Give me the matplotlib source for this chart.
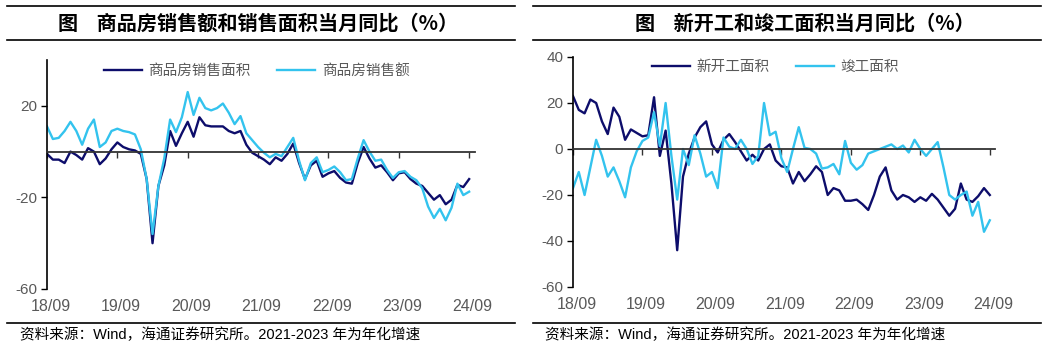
import matplotlib
matplotlib.use("Agg")
import matplotlib.pyplot as plt
from matplotlib.lines import Line2D
import matplotlib.transforms as mtransforms

plt.rcParams["font.family"] = ["Liberation Sans", "Noto Sans CJK SC"]
plt.rcParams["axes.unicode_minus"] = False

NAVY = "#0d0d6b"
CYAN = "#33c3ee"
GREY = "#595959"

# monthly, 2018-09 .. 2024-09 (index 0..72)
tick_pos = [0, 12, 24, 36, 48, 60, 72]
tick_labels = ["18/09", "19/09", "20/09", "21/09", "22/09", "23/09", "24/09"]

sales_area = [
    -1, -3.5, -3.5, -5, 0, -1.5, -3.5, 1.5, 0, -5.5, -3, 1,
    4, 2, 1, 0.5, -1, -12, -40, -15, -6, 9, 2.5, 8,
    13, 6.5, 15, 11.5, 11, 11, 11, 9, 8, 9, 3, -0.5,
    -2, -3.5, -5.5, -2.5, -4, -1, 3.5, -5, -12, -6, -4, -11,
    -9.5, -8.5, -11.5, -13.5, -14, -5, 2, -3, -7, -6, -9, -12.5,
    -9.5, -9, -12, -14, -15, -18, -21, -19, -23, -21, -14.5, -15.5,
    -12,
]
sales_amount = [
    11, 5.5, 6, 9, 13, 9, 3, 10, 14, 2, 4, 9,
    10, 9, 8.5, 7.5, 1, -12, -36, -15, -3, 14, 8.5, 15,
    26, 16, 23.5, 19, 18, 19, 21, 17, 12, 15.5, 8, 5,
    2, -0.5, -2.5, -1, -2, 2, 6, -4, -12.5, -5, -2.5, -9,
    -8, -6.5, -9, -12.5, -12, -3, 5, 0, -4, -3.5, -8, -11.5,
    -9, -8.5, -11, -12.5, -16, -24, -29, -25, -30, -24.5, -14, -19,
    -17.5,
]
new_starts = [
    23, 17, 15.5, 21.5, 20, 12, 6.5, 18, 14, 4, 8.5, 7,
    5.5, 6, 22.5, -3, 8, -15, -44, -12, -2, 5, 9.5, 12,
    2, -1.5, 4, 6.5, 3, -1, -5, -2.5, -5, 0, 2, -5,
    -7.5, -8, -15, -10, -14, -11, -7.5, -10, -20, -17, -18, -22.5,
    -22.5, -22, -24, -26.5, -20, -12, -8, -18, -22, -20, -21, -23,
    -21, -22.5, -19.5, -22, -25.5, -29, -26, -15, -22, -23, -20.5, -17,
    -20,
]
completions = [
    -17, -10, -20, -8, 4, -3, -12, -8, -14, -21, -8, -1,
    3.5, 5, 16, 1.3, 20, -3, -22, 0, -7, 6, -2, -12,
    -10, -17, 5, 1, 0, 4, 0, -6.5, -3, 20, 6, 7.5,
    -4, -10, 0, 9.5, 0.5, 0, -2, -8.5, -8, -6.5, -11, 3.5,
    -6, -9, -7, -2, -1, 0, 1, 2, 0, 1.5, -1.5, 4,
    0, -3, 0, 3, -8, -20, -22, -20, -18.5, -29, -23, -36,
    -31,
]

panels = [
    dict(rect=[47 / 1048, 1 - 289 / 354, 428 / 1048, 229 / 354], xmax=73,
         yticks=[-60, -20, 20],
         series=[(sales_area, NAVY, "商品房销售面积"), (sales_amount, CYAN, "商品房销售额")],
         title="图    商品房销售额和销售面积当月同比（%）",
         rule=(7, 515), title_x=258, leg=(0.49, 0.952), src_x=20),
    dict(rect=[573 / 1048, 1 - 287 / 354, 422 / 1048, 230 / 354], xmax=72.9,
         yticks=[-60, -40, -20, 0, 20, 40],
         series=[(new_starts, NAVY, "新开工面积"), (completions, CYAN, "竣工面积")],
         title="图    新开工和竣工面积当月同比（%）",
         rule=(533, 1041), title_x=805, leg=(0.48, 0.957), src_x=545),
]

fig = plt.figure(figsize=(10.48, 3.54), dpi=100)

for p in panels:
    ax = fig.add_axes(p["rect"])
    for vals, col, name in p["series"]:
        ax.plot(range(len(vals)), vals, color=col, lw=1.7, label=name,
                solid_joinstyle="round")
    ax.set_xlim(0, p["xmax"])
    ax.set_ylim(-60, 40)
    ax.set_yticks(p["yticks"])
    ax.set_xticks(tick_pos)
    for s in ("top", "right"):
        ax.spines[s].set_visible(False)
    ax.spines["left"].set_linewidth(1.2)
    ax.spines["bottom"].set_position(("data", 0))
    ax.spines["bottom"].set_color("#333333")
    ax.spines["bottom"].set_linewidth(1.3)
    ax.tick_params(axis="y", direction="out", length=4, width=1, colors="black",
                   labelcolor=GREY, labelsize=11, pad=3)
    ax.tick_params(axis="x", direction="out", length=4, width=1, colors="#333333",
                   labelbottom=False)
    trans = mtransforms.blended_transform_factory(ax.transData, ax.transAxes)
    for x, lab in zip(tick_pos, tick_labels):
        ax.text(x + 0.6, -0.075, lab, transform=trans, ha="center", va="center",
                fontsize=11.5, color=GREY)
    leg = ax.legend(loc="center", bbox_to_anchor=p["leg"], ncol=2, frameon=False,
                    handlelength=2.6, handletextpad=0.45, columnspacing=1.8,
                    prop={"family": ["Noto Sans CJK SC"], "size": 10.5})
    for t in leg.get_texts():
        t.set_color(GREY)

    x0, x1 = p["rule"]
    for y in (6, 40, 323):
        fig.add_artist(Line2D([x0 / 1048, x1 / 1048], [1 - y / 354, 1 - y / 354],
                              color="black", lw=1.2))
    fig.text(p["title_x"] / 1048, 1 - 23 / 354, p["title"], ha="center", va="center",
             fontsize=14.5, fontweight="bold", family=["Noto Sans CJK SC"])
    fig.text(p["src_x"] / 1048, 1 - 335 / 354, "资料来源：Wind，海通证券研究所。2021-2023 年为年化增速",
             ha="left", va="center", fontsize=10.5, color="black")

fig.savefig("out.png", dpi=100)
